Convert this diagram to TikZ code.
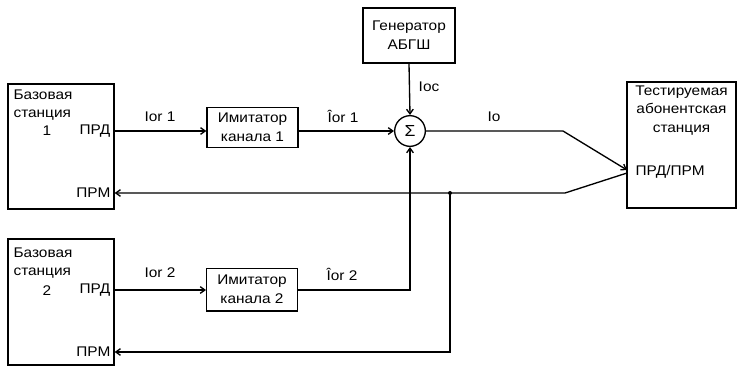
\documentclass[tikz,border=0pt]{standalone}
\usepackage{fontspec}
\setmainfont{Liberation Sans}[FakeStretch=1.1]
\usepackage{tikz}
\usetikzlibrary{arrows.meta,positioning}

\begin{document}
\begin{tikzpicture}[
        x=0.75pt, y=-0.75pt,
        >={Straight Barb[length=3.5pt,width=5pt]},
        txt/.style={font=\fontsize{10.5}{14}\selectfont, inner sep=1pt},
        box/.style={
            draw,
            line width=1pt,
            inner sep=0pt
        },
        flow/.style={->, line width=1pt},
        wire/.style={line width=1pt}
    ]
        \useasboundingbox (0,0) rectangle (738,369);

        % blocks
        \node[box, minimum width=79.5pt, minimum height=93.75pt] (bs1) at (61,146.5) {};
        \node[box, minimum width=79.5pt, minimum height=94.5pt] (bs2) at (61,302) {};
        \node[box, minimum width=68.25pt, minimum height=30pt] (im1) at (252.5,127.5) {};
        \node[box, minimum width=68pt, minimum height=32pt] (im2) at (252,289.5) {};
        \node[box, minimum width=69pt, minimum height=41.25pt] (gen) at (409,35.5) {};
        \node[box, circle, minimum size=23pt] (sum) at (410,131) {};
        \node[box, minimum width=81.75pt, minimum height=94.5pt] (tst) at (681.5,145) {};

        % texts in blocks
        \node[txt, align=left, anchor=north west] (bs1t) at (12,88) {Базовая\\станция};
        \node[txt] (bs1n) at (47,131) {1};
        \node[txt, anchor=east] (prd1) at (112,131) {ПРД};
        \node[txt, anchor=east] (prm1) at (112,193) {ПРМ};
        \node[txt, align=left, anchor=north west] (bs2t) at (12,246) {Базовая\\станция};
        \node[txt] (bs2n) at (47,291) {2};
        \node[txt, anchor=east] (prd2) at (112,290) {ПРД};
        \node[txt, anchor=east] (prm2) at (112,352) {ПРМ};
        \node[txt, align=center] (im1t) at (im1) {Имитатор\\канала 1};
        \node[txt, align=center] (im2t) at (im2) {Имитатор\\канала 2};
        \node[txt, align=center] (gent) at (gen) {Генератор\\АБГШ};
        \node[font=\fontsize{12}{14}\selectfont, inner sep=0pt] (sumt) at (sum) {Σ};
        \node[txt, align=center, anchor=north] (tstt) at (681.5,84) {Тестируемая\\абонентская\\станция};
        \node[txt, anchor=west] (trx) at (634,172) {ПРД/ПРМ};

        \coordinate (tin) at (627,170);
        \coordinate (tout) at (627,173);
        \coordinate (bend1) at (563,131);
        \coordinate (bend2) at (565,193);
        \coordinate (j) at (450,193);

        % connections
        \draw[flow] (prd1 -| bs1.east) -- (prd1 -| im1.west);
        \draw[flow] (prd2 -| bs2.east) -- (prd2 -| im2.west);
        \draw[flow] (sum -| im1.east) -- (sum.west);
        \draw[flow] (gen.south) -- (sum.north);
        \draw[flow] (prd2 -| im2.east) -| (sum.south);
        \draw[flow] (sum.east) -- (bend1) -- (tin);
        \draw[flow] (tout) -- (bend2) -- (prm1 -| bs1.east);
        \draw[flow] (j) -- (j |- prm2) -- (prm2 -| bs2.east);
        \fill (j) circle (2);

        % signal labels
        \node[txt] (l1) at (160,117) {Ior 1};
        \node[txt] (l2) at (160,273) {Ior 2};
        \node[txt] (l3) at (343,116) {\^{I}or 1};
        \node[txt] (l4) at (342,274) {\^{I}or 2};
        \node[txt] (l5) at (429,87) {Ioc};
        \node[txt] (l6) at (494,117) {Io};
    \end{tikzpicture}
\end{document}
